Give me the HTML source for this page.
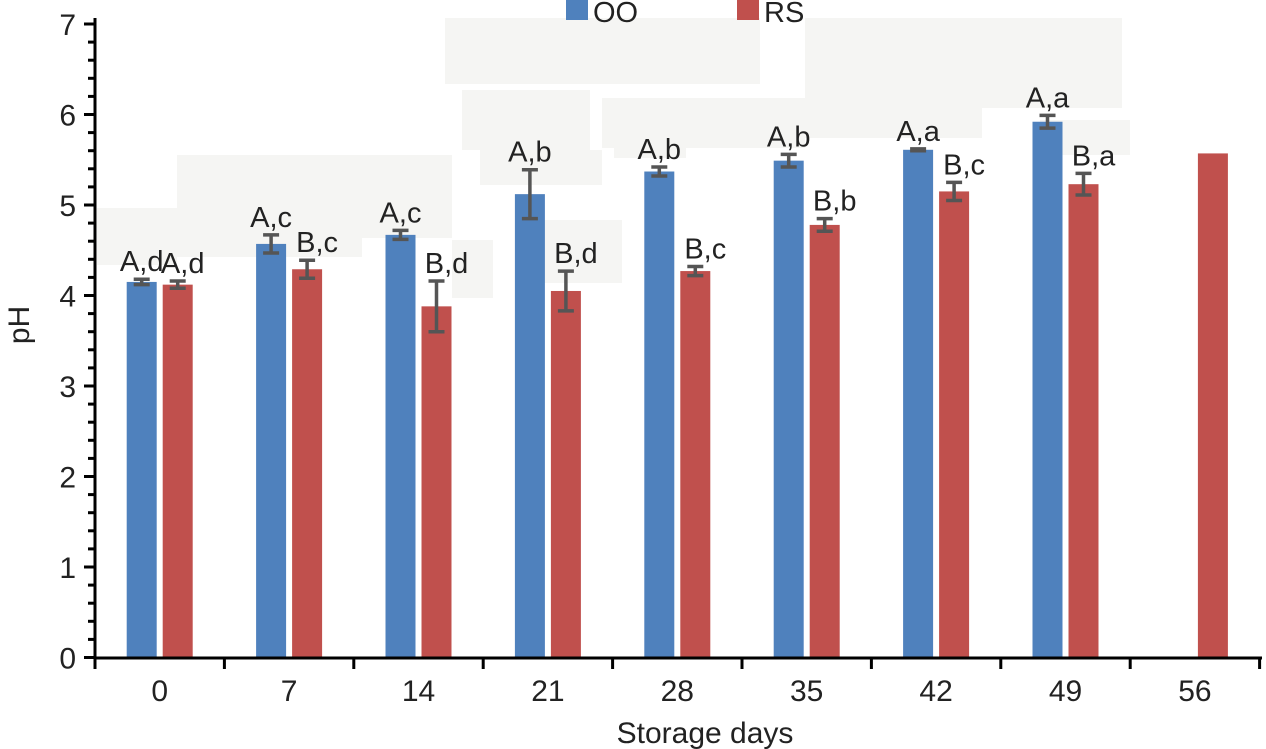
<!DOCTYPE html>
<html><head><style>body{margin:0;background:#fff}svg{display:block}</style></head><body>
<svg width="1266" height="749" xmlns="http://www.w3.org/2000/svg" font-family="Liberation Sans, Arial, sans-serif">
<g fill="#f5f5f3">
<rect x="97" y="208" width="80" height="57"/><rect x="177" y="155" width="185" height="102"/><rect x="362" y="155" width="90" height="83"/>
<rect x="452" y="240" width="41" height="58"/><rect x="445" y="18" width="315" height="66"/><rect x="462" y="90" width="128" height="60"/>
<rect x="480" y="150" width="122" height="35"/><rect x="530" y="220" width="92" height="63"/><rect x="602" y="98" width="203" height="50"/>
<rect x="614" y="148" width="72" height="10"/><rect x="805" y="18" width="317" height="90"/><rect x="686" y="108" width="296" height="30"/>
<rect x="1040" y="120" width="90" height="35"/>
</g>
<g id="bars"></g>
<g stroke="#000" stroke-width="3"><line x1="95" y1="18" x2="95" y2="659"/><line x1="94" y1="658" x2="1262" y2="658"/></g>
<g id="ticks" stroke="#000" stroke-width="3"></g>
<g font-size="30" fill="#222" id="labels"></g>
<rect x="566" y="0" width="22" height="20" fill="#4f81bd"/><text x="593" y="22" font-size="29" fill="#222">OO</text>
<rect x="737" y="0" width="22" height="20" fill="#c0504d"/><text x="764" y="22" font-size="29" fill="#222">RS</text>
<text x="705" y="743" font-size="30" fill="#222" text-anchor="middle">Storage days</text>
<text transform="translate(29,325) rotate(-90)" font-size="30" fill="#222" text-anchor="middle">pH</text>
<script>
var ns="http://www.w3.org/2000/svg";function el(p,t,a,tx){var e=document.createElementNS(ns,t);for(var k in a)e.setAttribute(k,a[k]);if(tx!==undefined)e.textContent=String(tx);p.appendChild(e);return e}
var Y=v=>657.5-v*90.5,B=document.getElementById('bars'),T=document.getElementById('ticks'),L=document.getElementById('labels');
var days=[0,7,14,21,28,35,42,49,56];
var oo=[4.15,4.57,4.67,5.12,5.37,5.49,5.61,5.92,null],oe=[.03,.1,.05,.27,.05,.07,.01,.07];
var rs=[4.12,4.29,3.88,4.05,4.27,4.78,5.15,5.23,5.57],re=[.04,.1,.28,.22,.05,.07,.1,.12,0];
var ol=["A,d","A,c","A,c","A,b","A,b","A,b","A,a","A,a"],rl=["A,d","B,c","B,d","B,d","B,c","B,b","B,c","B,a",""];
function bar(x,v,e,c,lab,lx){el(B,'rect',{x:x,y:Y(v),width:30,height:657.5-Y(v),fill:c});
 if(e){var cx=x+15,t=Y(v+e),b=Y(v-e);el(B,'path',{d:`M${cx-8} ${t}H${cx+8}M${cx} ${t}V${b}M${cx-8} ${b}H${cx+8}`,stroke:'#555','stroke-width':3.5,fill:'none'})}
 if(lab)el(B,'text',{x:lx,y:Y(v+e)-8,'font-size':29,fill:'#222','text-anchor':'middle'},lab)}
for(var i=0;i<9;i++){var c=95+64.7+i*129.4;
 if(oo[i]!=null)bar(c-33,oo[i],oe[i],'#4f81bd',ol[i],c-18);
 bar(c+3,rs[i],re[i],'#c0504d',rl[i],c+(i==0?23:28));
 el(L,'text',{x:c,y:701,'text-anchor':'middle'},days[i]);
 el(T,'line',{x1:95+(i+1)*129.4,y1:658,x2:95+(i+1)*129.4,y2:669});}
el(T,'line',{x1:95,y1:658,x2:95,y2:669});
for(var k=0;k<=35;k++){var y=Y(k*.2);el(T,'line',{x1:k%5?88:84,y1:y,x2:95,y2:y});}
for(var k=0;k<=7;k++)el(L,'text',{x:76,y:Y(k)+11,'text-anchor':'end'},k);
</script>
</svg></body></html>
